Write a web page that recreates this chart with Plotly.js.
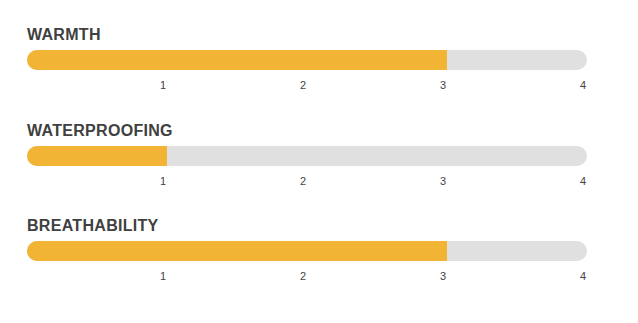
<!DOCTYPE html>
<html>
<head>
<meta charset="utf-8">
<script src="https://cdn.plot.ly/plotly-3.0.1.min.js"></script>
<style>html,body{margin:0;padding:0;background:#fff;}#chart{width:638px;height:323px;}
.annotation-text{letter-spacing:0.3px;}</style>
</head>
<body>
<div id="chart"></div>
<script>
const categories = ["WARMTH", "WATERPROOFING", "BREATHABILITY"];
const ratings = [3, 1, 3];
const scaleMax = 4;
const tickValues = [1, 2, 3, 4];
const tickLabels = ["1", "2", "3", "4"];

const W = 638, H = 323;
const barTops = [50, 146, 241];
const barH = 20;
const ORANGE = "#f2b435", GRAY = "#e0e0e0";
const CAP = 0.15; // width of the square end piece of the value bar

const traces = [];
const layout = {
  width: W, height: H,
  margin: {l: 27, r: 51, t: 0, b: 0},
  paper_bgcolor: "#fff", plot_bgcolor: "rgba(0,0,0,0)",
  showlegend: false,
  barmode: "overlay",
  font: {family: "Liberation Sans, Arial, sans-serif", color: "#444"},
  annotations: []
};

categories.forEach((cat, i) => {
  const n = i === 0 ? "" : String(i + 1);
  const xa = "x" + n, ya = "y" + n;
  // gray track, rounded at both ends
  traces.push({type: "bar", orientation: "h", y: [0], x: [scaleMax], base: [0], width: [1],
    marker: {color: GRAY, cornerradius: 10, line: {width: 0}}, xaxis: xa, yaxis: ya, hoverinfo: "skip"});
  // orange value bar, rounded
  traces.push({type: "bar", orientation: "h", y: [0], x: [ratings[i]], base: [0], width: [1],
    marker: {color: ORANGE, cornerradius: 10, line: {width: 0}}, xaxis: xa, yaxis: ya, hoverinfo: "skip"});
  // square end of the value bar
  traces.push({type: "bar", orientation: "h", y: [0], x: [CAP], base: [ratings[i] - CAP], width: [1],
    marker: {color: ORANGE, line: {width: 0}}, xaxis: xa, yaxis: ya, hoverinfo: "skip"});

  const top = barTops[i], bot = top + barH;
  const yKey = "yaxis" + n, xKey = "xaxis" + n;
  layout[yKey] = {domain: [1 - bot / H, 1 - top / H], range: [-0.5, 0.5], anchor: xa,
    showgrid: false, zeroline: false, showticklabels: false, showline: false, fixedrange: true};
  layout[xKey] = {range: [0, scaleMax], anchor: ya, showgrid: false, zeroline: false, showline: false,
    ticks: "", tickvals: tickValues, ticktext: tickLabels, ticklabelshift: -4, ticklabelstandoff: 7,
    tickfont: {size: 11, color: "#444", family: "Liberation Sans, Arial, sans-serif"}, fixedrange: true};
  layout.annotations.push({text: "<b>" + cat + "</b>", xref: "paper", yref: "paper", x: 0, xanchor: "left",
    xshift: -2, y: 1 - (top - 5) / H, yanchor: "bottom", showarrow: false,
    font: {size: 16, color: "#404040", family: "Liberation Sans, Arial, sans-serif"}});
});

Plotly.newPlot("chart", traces, layout, {displayModeBar: false, staticPlot: true});
</script>
</body>
</html>
